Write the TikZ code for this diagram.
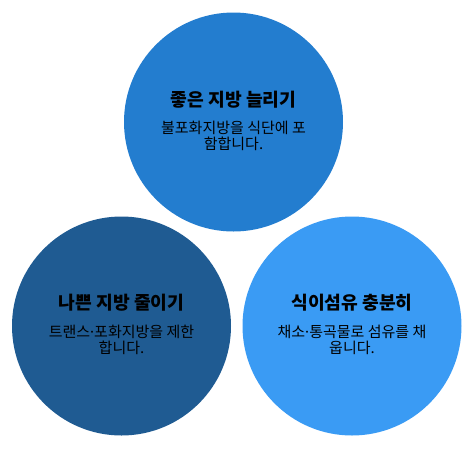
\documentclass[tikz,border=0pt]{standalone}
\usepackage{fontspec}
\setmainfont{Noto Sans CJK KR}
\newfontfamily\dotfont{Noto Sans}
\newcommand{\middot}{{\dotfont ·}}

\definecolor{goodfat}{HTML}{237DCF}
\definecolor{badfat}{HTML}{1F5B92}
\definecolor{fiber}{HTML}{3A9BF4}

\tikzset{
  blob/.style={circle, minimum size=219pt, inner sep=0pt, draw=none},
  headline/.style={font=\fontsize{18.2}{21}\selectfont\bfseries},
  bodytext/.style={font=\fontsize{15}{16.5}\selectfont, align=center, inner sep=0pt}
}

\begin{document}
\begin{tikzpicture}[x=1pt,y=1pt]
\useasboundingbox (0,0) rectangle (472,-451);

\node[blob, fill=goodfat] (good) at (233.5,-122) {};
\node[headline] (goodtitle) at (233.5,-99.5) {좋은 지방 늘리기};
\node[bodytext] (goodtext) at (233.5,-135.7) {불포화지방을 식단에 포\\함합니다.};

\node[blob, fill=badfat] (bad) at (121.5,-326) {};
\node[headline] (badtitle) at (121.5,-303) {나쁜 지방 줄이기};
\node[bodytext] (badtext) at (121.5,-339.7) {트랜스\middot 포화지방을 제한\\합니다.};

\node[blob, fill=fiber] (fib) at (352,-326) {};
\node[headline] (fibtitle) at (352,-303) {식이섬유 충분히};
\node[bodytext] (fibtext) at (352,-339.7) {채소\middot 통곡물로 섬유를 채\\웁니다.};

\end{tikzpicture}
\end{document}
